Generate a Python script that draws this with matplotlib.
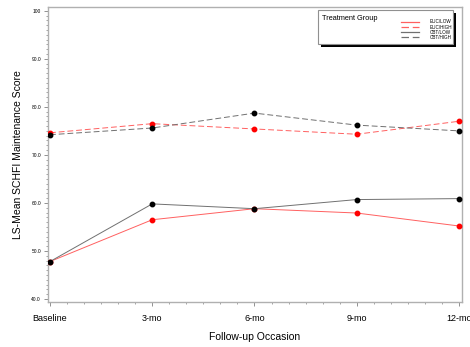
import matplotlib.pyplot as plt
from matplotlib.patches import Rectangle
from matplotlib.ticker import MultipleLocator, AutoMinorLocator

occasions = ["Baseline", "3-mo", "6-mo", "9-mo", "12-mo"]
euc_low = [47.8, 56.5, 58.8, 57.9, 55.2]
euc_high = [74.6, 76.5, 75.4, 74.3, 77.0]
cbt_low = [47.8, 59.8, 58.8, 60.7, 60.9]
cbt_high = [74.2, 75.6, 78.7, 76.2, 75.0]
series_names = ["EUC/LOW", "EUC/HIGH", "CBT/LOW", "CBT/HIGH"]

plt.rcParams["font.family"] = ["Liberation Sans", "DejaVu Sans"]

fig = plt.figure(figsize=(4.7, 3.47), dpi=100)
ax = fig.add_axes([0.102, 0.13, 0.881, 0.85])

x = list(range(len(occasions)))
styles = [
    (euc_low, "#ff6060", "-", "red"),
    (euc_high, "#ff6060", (0, (6, 3)), "red"),
    (cbt_low, "#707070", "-", "black"),
    (cbt_high, "#707070", (0, (6, 3)), "black"),
]
handles = []
for vals, col, ls, mc in styles:
    h, = ax.plot(x, vals, color=col, linestyle=ls, linewidth=0.7,
                 marker="o", markersize=3.2, markerfacecolor=mc,
                 markeredgecolor=mc, zorder=3)
    handles.append(h)

ax.set_xlim(-0.02, 4.03)
ax.set_ylim(39.4, 100.8)
ax.set_xticks(x)
ax.set_xticklabels(occasions, fontsize=6.5)
ax.xaxis.set_minor_locator(AutoMinorLocator(6))
ax.set_yticks([40, 50, 60, 70, 80, 90, 100])
ax.set_yticklabels(["40.0", "50.0", "60.0", "70.0", "80.0", "90.0", "100"], fontsize=3.5)
ax.yaxis.set_minor_locator(MultipleLocator(1))
ax.tick_params(axis="both", which="major", length=3, width=0.6, color="#808080", pad=2)
ax.tick_params(axis="both", which="minor", length=1.5, width=0.5, color="#808080")
ax.tick_params(axis="x", pad=6)
for s in ax.spines.values():
    s.set_color("#b0b0b0")
    s.set_linewidth(1.0)

ax.set_xlabel("Follow-up Occasion", fontsize=7.5, labelpad=6)
ax.set_ylabel("LS-Mean SCHFI Maintenance Score", fontsize=7.5, labelpad=6)

# legend box with shadow, drawn in figure pixel coordinates
W, H = 470, 347
def fx(px):
    return px / W
def fy(py):
    return 1 - py / H

fig.patches.append(Rectangle((fx(321), fy(47)), fx(135), 34 / H, transform=fig.transFigure,
                             facecolor="black", edgecolor="none", zorder=4))
fig.patches.append(Rectangle((fx(318), fy(44)), fx(135), 34 / H, transform=fig.transFigure,
                             facecolor="white", edgecolor="#909090", linewidth=0.8, zorder=5))
fig.text(fx(322), fy(19), "Treatment Group", fontsize=5.3, ha="left", va="center", zorder=6)
leg = fig.legend(handles, series_names, loc="upper left",
                 bbox_to_anchor=(fx(399), fy(17)), bbox_transform=fig.transFigure,
                 fontsize=3.3, frameon=False, handlelength=3.8, handletextpad=2.4,
                 labelspacing=0.05, borderpad=0, markerfirst=True)
for lh in leg.legend_handles:
    lh.set_marker("")
    lh.set_linewidth(0.9)
leg.set_zorder(7)

fig.savefig("out.png", dpi=100)
